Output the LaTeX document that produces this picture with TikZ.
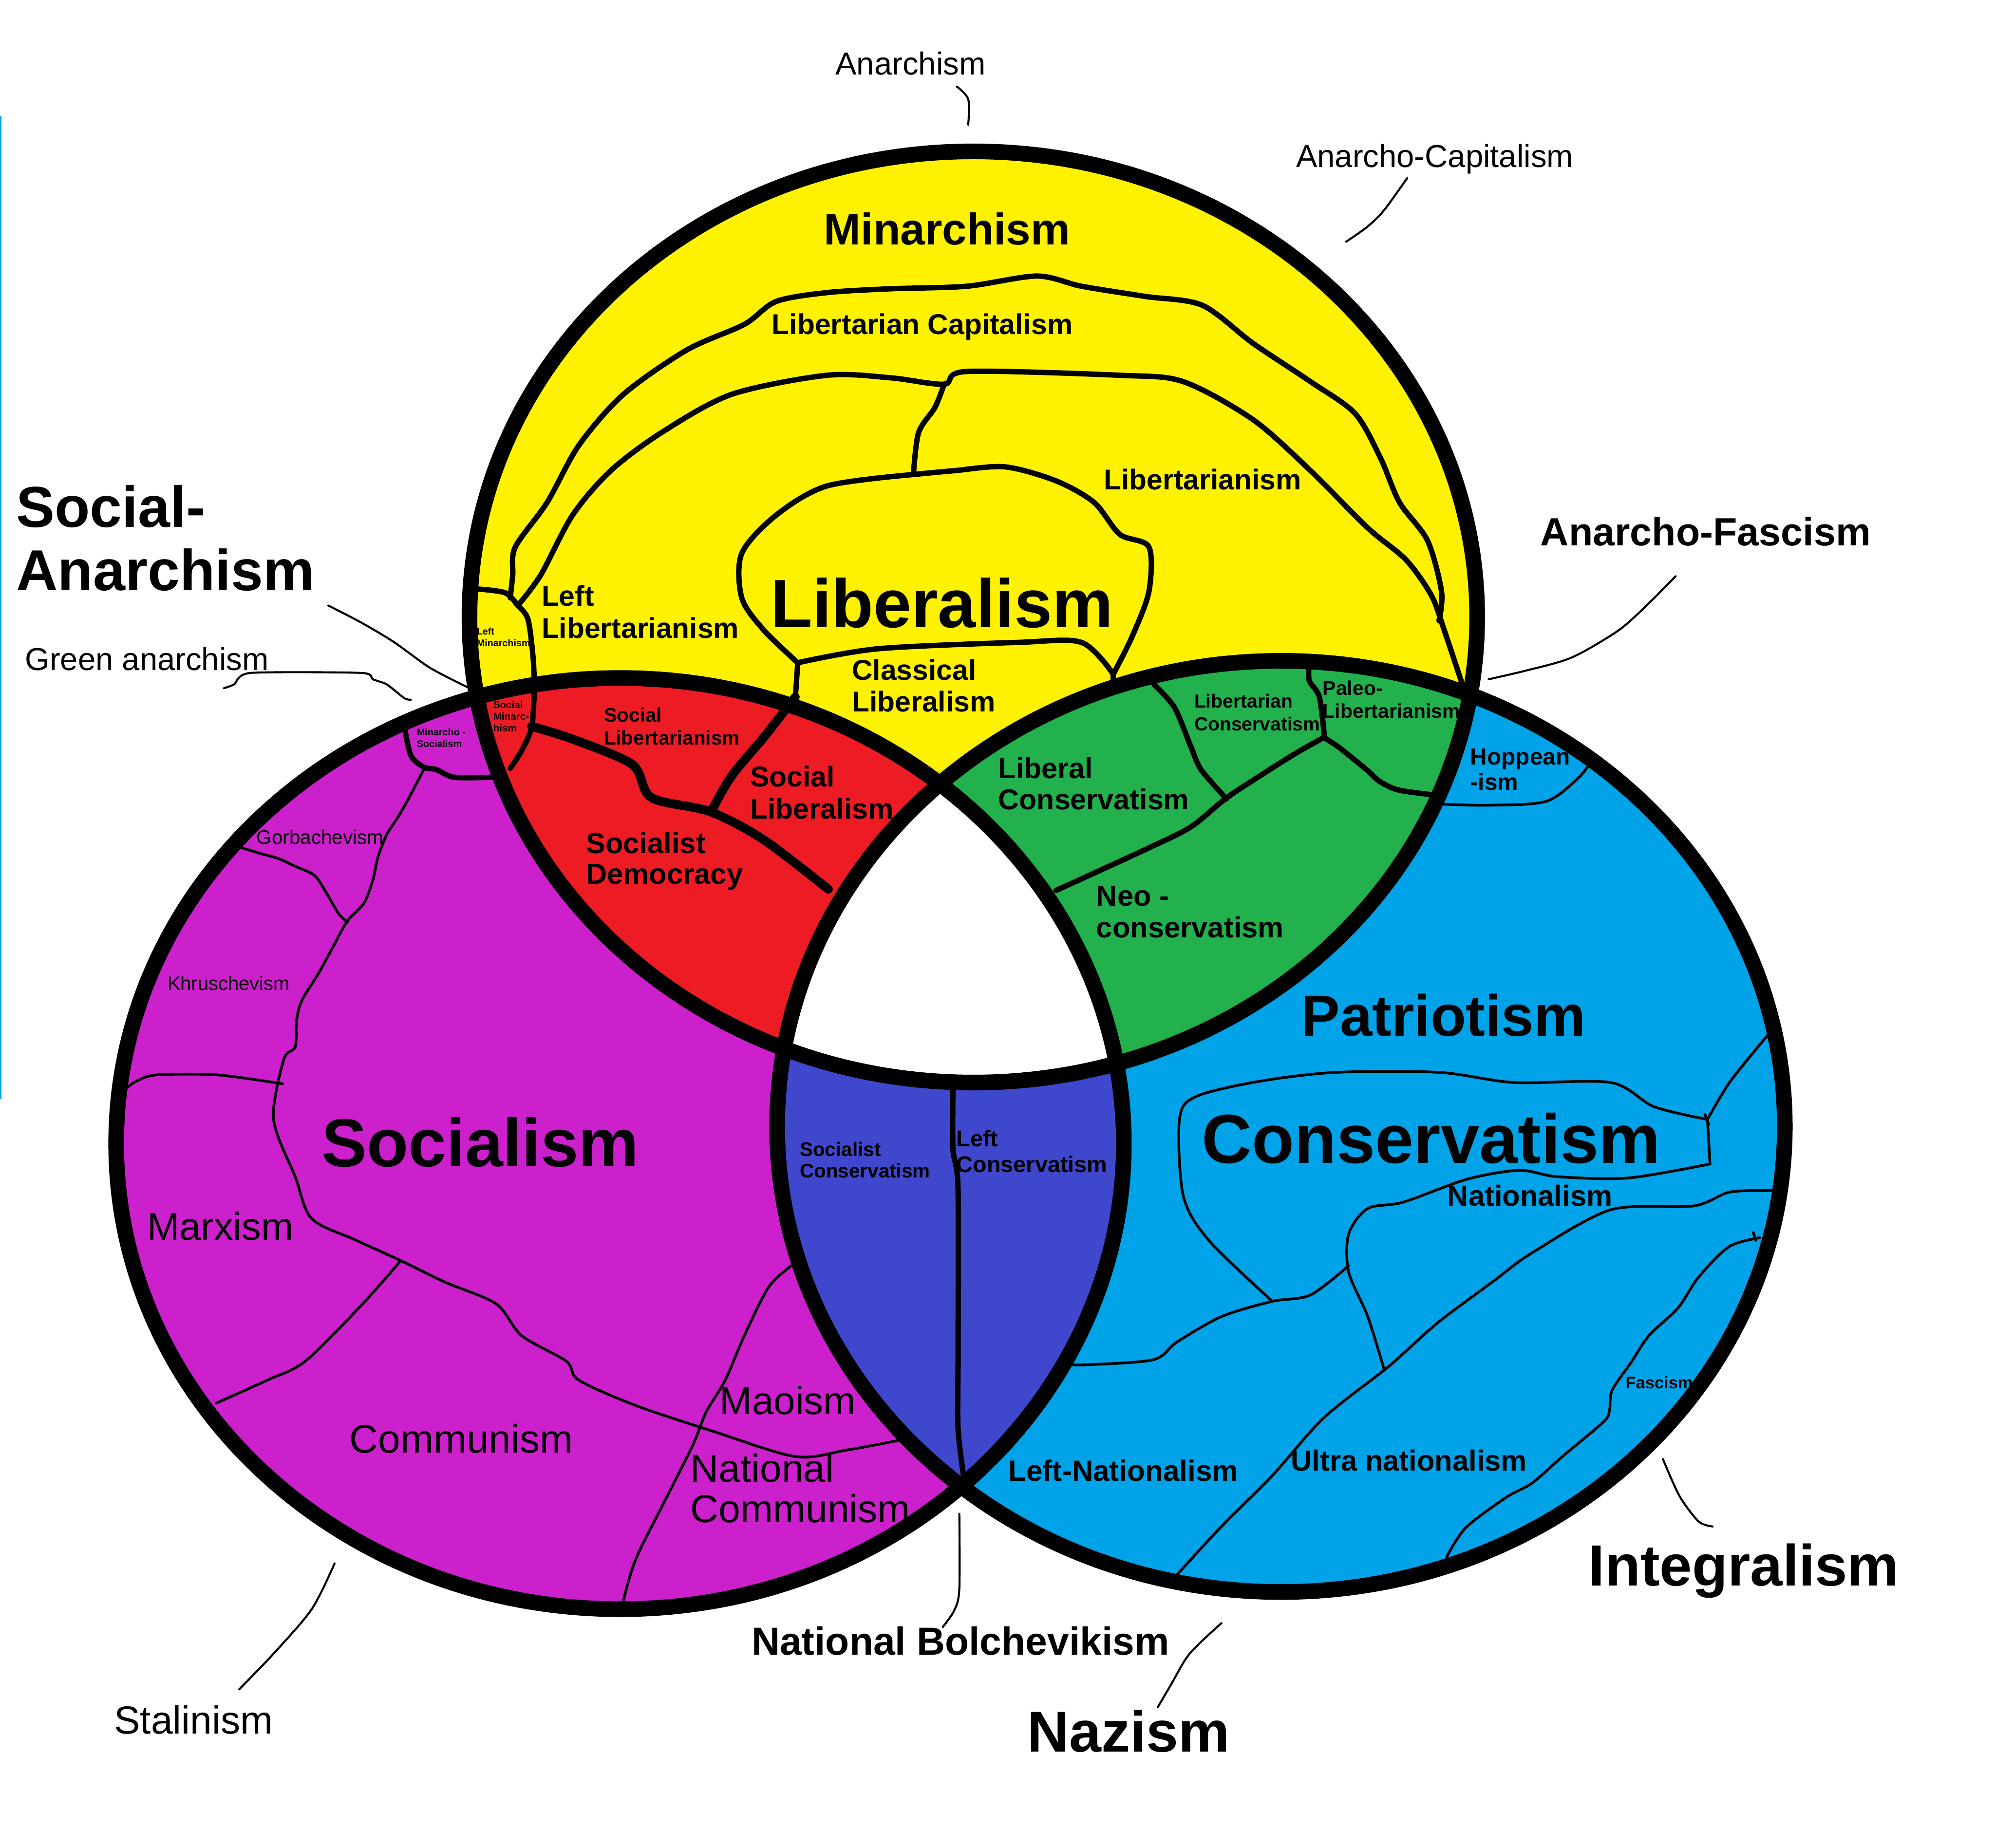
\documentclass[tikz,border=0pt]{standalone}
\usepackage{fontspec}
\setmainfont{Liberation Sans}
\usepackage{xcolor}
\usepackage{tikz}
\definecolor{yellowc}{HTML}{FFF200}
\definecolor{purplec}{HTML}{CC20CC}
\definecolor{bluec}{HTML}{00A2E8}
\definecolor{redc}{HTML}{ED1C24}
\definecolor{greenc}{HTML}{22B14C}
\definecolor{indigoc}{HTML}{3F48CC}

\begin{document}
\begin{tikzpicture}[x=.01cm,y=-.01cm,line join=round,line cap=round,
    ell/.style={x radius=396,y radius=366},
    outline/.style={line width=3.5pt},
    thickb/.style={line width=2pt},
    medb/.style={line width=1.2pt},
    thinb/.style={line width=.6pt},
    leader/.style={line width=.45pt},
    blab/.style 2 args={anchor=west,inner sep=0pt,align=left,font=\bfseries\fontsize{#1}{#2}\selectfont},
    rlab/.style 2 args={anchor=west,inner sep=0pt,align=left,font=\fontsize{#1}{#2}\selectfont}]
        \useasboundingbox (0,0) rectangle (1568,1452.4);
        \fill[white] (0,0) rectangle (1568,1452.4);
        \fill[bluec] (0,91) rectangle (1,864);

        \coordinate (cy) at (765,485);
        \coordinate (cp) at (487.3,899);
        \coordinate (cb) at (1006.8,885.5);

        % colours
        \fill[purplec] (cp) ellipse [ell];
        \fill[bluec] (cb) ellipse [ell];
        \fill[yellowc] (cy) ellipse [ell];
        \begin{scope}
          \clip (cy) ellipse [ell];
          \fill[redc] (cp) ellipse [ell];
          \fill[greenc] (cb) ellipse [ell];
        \end{scope}
        \begin{scope}
          \clip (cp) ellipse [ell];
          \fill[indigoc] (cb) ellipse [ell];
          \clip (cb) ellipse [ell];
          \fill[white] (cy) ellipse [ell];
        \end{scope}

        % yellow
        \draw[medb] plot[smooth,tension=.5] coordinates {(401,470) (403,452) (405,430) (430,395) (455,350) (490,310) (540,275) (585,255) (610,237) (650,230) (700,227) (760,225) (815,217) (850,225) (900,233) (945,240) (985,270) (1030,300) (1065,325) (1085,360) (1100,395) (1122,425) (1133,465) (1131,488)};
        \draw[medb] plot[smooth,tension=.5] coordinates {(407,476) (425,452) (450,405) (480,370) (520,340) (575,310) (650,295) (700,297) (742,302) (760,292) (880,295) (930,300) (985,330) (1030,370) (1075,415) (1105,440) (1125,468) (1135,495) (1150,540)};
        \draw[medb] plot[smooth,tension=.5] coordinates {(742,302) (735,320) (722,340) (718,372)};
        \draw[medb] plot[smooth,tension=.5] coordinates {(718,373) (650,382) (610,405) (583,435) (583,470) (600,495) (627,521)};
        \draw[medb] plot[smooth,tension=.5] coordinates {(875,530) (890,500) (903,465) (903,430) (880,420) (860,395) (830,378) (790,367) (750,370) (718,373)};
        \draw[medb] plot[smooth,tension=.5] coordinates {(627,521) (690,510) (800,505) (850,505) (875,530)};
        \draw[medb] (627,521) -- (625,550);
        \draw[medb] (875,530) -- (875,540);
        \draw[medb] plot[smooth,tension=.5] coordinates {(375,463) (397,466) (407,476) (415,487) (419,517) (420,540)};

        % red
        \draw[medb] plot[smooth,tension=.5] coordinates {(420,540) (418,571) (410,590) (401,604)};
        \draw[thickb] plot[smooth,tension=.5] coordinates {(418,571) (450,581) (497,601) (512,627) (558,638) (600,660) (651,699)};
        \draw[thickb] plot[smooth,tension=.5] coordinates {(560,636) (575,610) (600,580) (618,557) (625,548)};

        % green
        \draw[medb] plot[smooth,tension=.5] coordinates {(830,700) (902,667) (936,650) (963,628) (987,612) (1017,593) (1040,580)};
        \draw[medb] plot[smooth,tension=.5] coordinates {(907,538) (923,556) (936,587) (944,605) (964,628)};
        \draw[medb] plot[smooth,tension=.5] coordinates {(1029,522) (1029,535) (1037,548) (1041,580)};
        \draw[medb] plot[smooth,tension=.5] coordinates {(1041,580) (1053,588) (1074,605) (1084,614) (1099,621) (1128,625)};

        % blue
        \draw[thinb] plot[smooth,tension=.5] coordinates {(1130,632) (1170,633) (1215,630) (1240,612) (1252,597)};
        \draw[thinb] plot[smooth,tension=.5] coordinates {(1390,813) (1360,850) (1342,880)};
        \draw[thinb] plot[smooth,tension=.5] coordinates {(1342,880) (1300,870) (1266,851) (1190,851) (1131,843) (1050,843) (990,850) (940,862) (927,880) (930,940) (950,975) (1000,1023)};
        \draw[thinb] (1342,880) -- (1344,915);
        \draw[thinb] plot[smooth,tension=.5] coordinates {(1344,915) (1280,926) (1224,925) (1194,920) (1153,927) (1103,945) (1075,950) (1060,970) (1060,1000) (1075,1035) (1088,1077)};
        \draw[thinb] plot[smooth,tension=.5] coordinates {(1060,995) (1030,1018) (1000,1023) (960,1035) (925,1055) (906,1069) (850,1073) (840,1072)};
        \draw[thinb] plot[smooth,tension=.5] coordinates {(1395,936) (1360,937) (1331,948) (1266,951) (1204,985) (1174,1007) (1131,1039) (1103,1064) (1088,1077) (1040,1115) (1000,1160) (960,1200) (925,1238)};
        \draw[thinb] plot[smooth,tension=.5] coordinates {(1383,973) (1359,980) (1335,1004) (1319,1028) (1296,1050) (1282,1071) (1267,1093) (1265,1109) (1260,1118) (1228,1145) (1204,1166) (1184,1177) (1152,1201) (1137,1224)};
        \draw[thinb] (1340,876) -- (1343,884);
        \draw[thinb] (1378,969) -- (1380,975);

        % indigo
        \draw[medb] plot[smooth,tension=.5] coordinates {(749,855) (749,903) (753,935) (753,1069) (753,1123) (758,1165)};

        % purple
        \draw[medb] plot[smooth,tension=.5] coordinates {(318,572) (323,594) (333,603) (343,605) (357,611) (387,611)};
        \draw[thinb] plot[smooth,tension=.5] coordinates {(333,605) (321,628) (313,642) (304,656) (297,674) (293,692) (286,710) (273,724) (263,742) (251,764) (237,787) (233,803) (232,823) (223,833) (215,880) (232,925) (245,958) (280,975) (315,991) (350,1008) (390,1025) (410,1050) (445,1070) (455,1085) (500,1105) (560,1125) (625,1145) (665,1140) (708,1132)};
        \draw[thinb] plot[smooth,tension=.5] coordinates {(185,665) (205,671) (219,675) (232,681) (247,688) (256,701) (266,718) (273,725)};
        \draw[thinb] plot[smooth,tension=.5] coordinates {(100,855) (107,850) (123,845) (171,845) (222,852)};
        \draw[thinb] plot[smooth,tension=.5] coordinates {(315,991) (285,1025) (240,1070) (210,1085) (170,1103)};
        \draw[thinb] plot[smooth,tension=.5] coordinates {(622,995) (604,1012) (585,1050) (570,1085) (555,1110) (545,1135) (525,1175) (500,1225) (490,1258)};

        % circles
        \draw[outline] (cp) ellipse [ell];
        \draw[outline] (cb) ellipse [ell];
        \draw[outline] (cy) ellipse [ell];

        % leaders
        \draw[leader] plot[smooth] coordinates {(752,68) (761,78) (761,98)};
        \draw[leader] plot[smooth] coordinates {(1106,140) (1088,165) (1075,178) (1058,190)};
        \draw[leader] plot[smooth] coordinates {(1317,453) (1290,480) (1270,497) (1235,517) (1200,527) (1170,534)};
        \draw[leader] plot[smooth] coordinates {(258,476) (285,490) (310,505) (338,525) (367,540)};
        \draw[leader] plot[smooth,tension=.4] coordinates {(176,541) (184,538) (197,529) (284,529) (293,534) (304,538) (318,549) (323,550)};
        \draw[leader] plot[smooth] coordinates {(263,1229) (245,1265) (215,1300) (188,1328)};
        \draw[leader] plot[smooth] coordinates {(754,1190) (754,1249) (750,1266) (741,1279)};
        \draw[leader] plot[smooth] coordinates {(960,1276) (935,1300) (920,1325) (910,1342)};
        \draw[leader] plot[smooth] coordinates {(1307,1147) (1320,1176) (1335,1196) (1346,1200)};

        % outside labels
        \node[rlab={7.1}{8}] (anarchism) at (656,50) {Anarchism};
        \node[rlab={7.1}{8}] (anarchocap) at (1018,125) {Anarcho-Capitalism};
        \node[blab={12.9}{14.2}] (socanarchism) at (12,423) {Social-\\Anarchism};
        \node[rlab={7.1}{8}] (greenanarchism) at (19,518) {Green anarchism};
        \node[blab={8.8}{10}] (anarchofascism) at (1210,418) {Anarcho-Fascism};
        \node[blab={13}{14}] (integralism) at (1248,1235) {Integralism};
        \node[blab={8.75}{10}] (natbolch) at (590,1290) {National Bolchevikism};
        \node[blab={12.9}{14}] (nazism) at (807,1361) {Nazism};
        \node[rlab={8.75}{10}] (stalinism) at (89,1352) {Stalinism};

        % yellow labels
        \node[blab={9.9}{11}] (minarchism) at (647,180) {Minarchism};
        \node[blab={6.4}{7.1}] (libcap) at (606,257) {Libertarian Capitalism};
        \node[blab={6.4}{7.1}] (libertarianism) at (867,377) {Libertarianism};
        \node[blab={15.3}{17}] (liberalism) at (605,474) {Liberalism};
        \node[blab={6.4}{7.1}] (leftlib) at (425,481) {Left\\Libertarianism};
        \node[blab={6.4}{7}] (classlib) at (669,539) {Classical\\Liberalism};
        \node[blab={2.15}{2.6}] (leftmin) at (374,501) {Left\\Minarchism};

        % red labels
        \node[blab={2.25}{2.6}] (socmin) at (387,563) {Social\\Minarc-\\hism};
        \node[blab={4.4}{5.1}] (soclib) at (474,571) {Social\\Libertarianism};
        \node[blab={6.4}{7.1}] (socliberal) at (589,623) {Social\\Liberalism};
        \node[blab={6.5}{6.9}] (socdem) at (460,677) {Socialist\\Democracy};

        % green labels
        \node[blab={4.25}{5.1}] (libcons) at (938,560) {Libertarian\\Conservatism};
        \node[blab={4.45}{5.1}] (paleo) at (1039,550) {Paleo-\\Libertarianism};
        \node[blab={6.45}{6.9}] (liberalcons) at (784,616) {Liberal\\Conservatism};
        \node[blab={6.5}{7.1}] (neocons) at (861,717) {Neo -\\conservatism};

        % blue labels
        \node[blab={5.2}{5.7}] (hoppean) at (1155,605) {Hoppean\\-ism};
        \node[blab={13}{14}] (patriotism) at (1022,798) {Patriotism};
        \node[blab={15.5}{17}] (conservatism) at (944,895) {Conservatism};
        \node[blab={6.5}{7}] (nationalism) at (1137,940) {Nationalism};
        \node[blab={6.55}{7}] (leftnat) at (792,1156) {Left-Nationalism};
        \node[blab={6.5}{7}] (ultranat) at (1014,1148) {Ultra nationalism};
        \node[blab={3.75}{4}] (fascism) at (1277,1087) {Fascism};

        % indigo labels
        \node[blab={4.4}{4.8}] (soccons) at (628,912) {Socialist\\Conservatism};
        \node[blab={5.1}{5.7}] (leftcons) at (751,905) {Left\\Conservatism};

        % purple labels
        \node[blab={2.15}{2.6}] (minsoc) at (327,580) {Minarcho -\\Socialism};
        \node[rlab={4.4}{5}] (gorbachevism) at (201,658) {Gorbachevism};
        \node[rlab={4.35}{5}] (khruschevism) at (131,773) {Khruschevism};
        \node[blab={15.2}{17}] (socialism) at (252,898) {Socialism};
        \node[rlab={8.65}{10}] (marxism) at (115,964) {Marxism};
        \node[rlab={8.9}{10}] (communism) at (274,1131) {Communism};
        \node[rlab={8.7}{10}] (maoism) at (565,1101) {Maoism};
        \node[rlab={8.75}{9.1}] (natcom) at (542,1170) {National\\Communism};

      \end{tikzpicture}
\end{document}
